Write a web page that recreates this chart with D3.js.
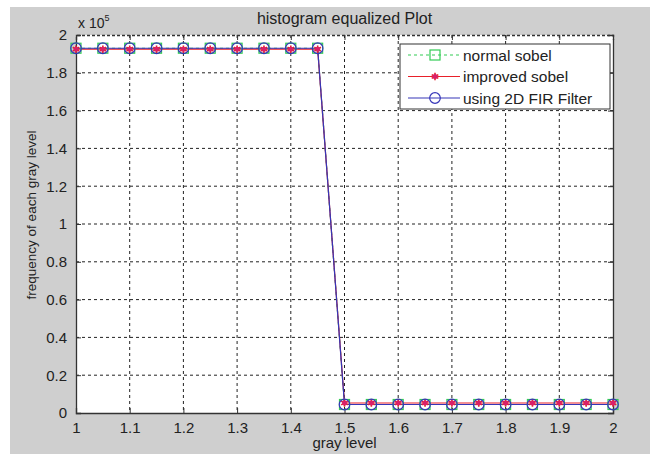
<!DOCTYPE html>
<html>
<head>
<meta charset="utf-8">
<script src="https://cdn.jsdelivr.net/npm/d3@7"></script>
<style>
  body { margin:0; background:#fff; }
  svg text { font-family: "Liberation Sans", Arial, sans-serif; fill:#222; }
</style>
</head>
<body>
<div id="chart-area"></div>
<script>
// data (y values in units of 1e5)
const grayLevels = [1,1.05,1.1,1.15,1.2,1.25,1.3,1.35,1.4,1.45,1.5,1.55,1.6,1.65,1.7,1.75,1.8,1.85,1.9,1.95,2];
const normalSobel   = [1.93,1.93,1.93,1.93,1.93,1.93,1.93,1.93,1.93,1.93,0.045,0.045,0.045,0.045,0.045,0.045,0.045,0.045,0.045,0.045,0.045];
const improvedSobel = [1.925,1.925,1.925,1.925,1.925,1.925,1.925,1.925,1.925,1.925,0.053,0.053,0.053,0.053,0.053,0.053,0.053,0.053,0.053,0.053,0.053];
const firFilter     = [1.93,1.93,1.93,1.93,1.93,1.93,1.93,1.93,1.93,1.93,0.045,0.045,0.045,0.045,0.045,0.045,0.045,0.045,0.045,0.045,0.045];
const xTicks = [1,1.1,1.2,1.3,1.4,1.5,1.6,1.7,1.8,1.9,2];
const yTicks = [0,0.2,0.4,0.6,0.8,1,1.2,1.4,1.6,1.8,2];
const seriesNames = ["normal sobel", "improved sobel", "using 2D FIR Filter"];

const W = 650, H = 454;
const margin = { left:76, right:37, top:35, bottom:41 };
const width = W - margin.left - margin.right,
    height = H - margin.top - margin.bottom;

const svg = d3.select("#chart-area")
    .append("svg")
    .attr("width", W)
    .attr("height", H);

// matlab grey figure background
svg.append("rect")
    .attr("x", 10).attr("y", 7)
    .attr("width", W - 10).attr("height", H - 7)
    .attr("fill", "#cfcfcf");

const g = svg.append("g")
    .attr("transform", "translate(" + margin.left + "," + margin.top + ")");

g.append("rect")
    .attr("width", width).attr("height", height)
    .attr("fill", "#fff");

const x = d3.scaleLinear().domain([1, 2]).range([0, width]);
const y = d3.scaleLinear().domain([0, 2]).range([height, 0]);

// grid
g.selectAll(".vgrid").data(xTicks.slice(1, -1)).enter().append("line")
    .attr("x1", d => x(d)).attr("x2", d => x(d))
    .attr("y1", 0).attr("y2", height)
    .attr("stroke", "#222").attr("stroke-width", 1)
    .attr("stroke-dasharray", "3,3");
g.selectAll(".hgrid").data(yTicks.slice(1, -1)).enter().append("line")
    .attr("y1", d => y(d)).attr("y2", d => y(d))
    .attr("x1", 0).attr("x2", width)
    .attr("stroke", "#222").attr("stroke-width", 1)
    .attr("stroke-dasharray", "3,3");

// axes (ticks pointing inward, like matlab)
const xAxis = d3.axisBottom(x).tickValues(xTicks).tickSize(-5).tickPadding(9)
    .tickFormat(d3.format("~g"));
const gx = g.append("g")
    .attr("transform", "translate(0," + height + ")")
    .call(xAxis);
const yAxis = d3.axisLeft(y).tickValues(yTicks).tickSize(-5).tickPadding(9)
    .tickFormat(d3.format("~g"));
const gy = g.append("g").call(yAxis);
const gx2 = g.append("g").call(d3.axisTop(x).tickValues(xTicks).tickSize(-5).tickFormat(""));
const gy2 = g.append("g").attr("transform", "translate(" + width + ",0)")
    .call(d3.axisRight(y).tickValues(yTicks).tickSize(-5).tickFormat(""));
[gx, gy, gx2, gy2].forEach(a => {
    a.select(".domain").attr("stroke", "#333").attr("stroke-width", 1.3);
    a.selectAll(".tick line").attr("stroke", "#333");
    a.selectAll("text").attr("font-size", "15px").attr("fill", "#2a2a2a");
});
gx2.select(".domain").attr("stroke-dasharray", "3,2");

// lines
const line = d3.line().x((d, i) => x(grayLevels[i])).y(d => y(d));
const series = [
    { name: seriesNames[0], vals: normalSobel, color: "#33cc55", dash: "3,3" },
    { name: seriesNames[1], vals: improvedSobel, color: "#e8202a", dash: null },
    { name: seriesNames[2], vals: firFilter, color: "#3636b8", dash: null }
];

series.forEach(s => {
    g.append("path").datum(s.vals)
        .attr("d", line)
        .attr("fill", "none")
        .attr("stroke", s.color)
        .attr("stroke-width", 1.2)
        .attr("stroke-dasharray", s.dash);
});

function marker(sel, i, cx, cy) {
    if (i === 0) {
        sel.append("rect").attr("x", cx - 5).attr("y", cy - 5).attr("width", 10).attr("height", 10)
            .attr("fill", "none").attr("stroke", series[0].color).attr("stroke-width", 1.2);
    } else if (i === 1) {
        sel.append("path")
            .attr("d", d3.symbol().type(d3.symbolAsterisk).size(40)())
            .attr("transform", "translate(" + cx + "," + cy + ")")
            .attr("fill", "none").attr("stroke", series[1].color).attr("stroke-width", 1.6);
        sel.append("circle").attr("cx", cx).attr("cy", cy).attr("r", 2.5).attr("fill", "#d8206a");
    } else {
        sel.append("circle").attr("cx", cx).attr("cy", cy).attr("r", 5.3)
            .attr("fill", "none").attr("stroke", series[2].color).attr("stroke-width", 1.2);
    }
}

series.forEach((s, si) => {
    const mg = g.append("g");
    s.vals.forEach((v, i) => marker(mg, si, x(grayLevels[i]), y(v)));
});

// legend
const lg = g.append("g").attr("transform", "translate(" + (400 - margin.left) + "," + (44 - margin.top) + ")");
lg.append("rect").attr("width", 210).attr("height", 65)
    .attr("fill", "#fff").attr("stroke", "#333").attr("stroke-width", 1);
series.forEach((s, i) => {
    const ly = 11 + i * 21.5;
    lg.append("line").attr("x1", 8).attr("x2", 60).attr("y1", ly).attr("y2", ly)
        .attr("stroke", s.color).attr("stroke-width", 1.2).attr("stroke-dasharray", s.dash);
    marker(lg, i, 35, ly);
    lg.append("text").attr("x", 63).attr("y", ly + 5.5)
        .attr("font-size", "15.5px").attr("fill", "#2a2a2a").text(s.name);
});

// labels
svg.append("text")
    .attr("x", margin.left + width / 2).attr("y", 24)
    .attr("text-anchor", "middle").attr("font-size", "16px").attr("fill", "#2a2a2a")
    .text("histogram equalized Plot");
svg.append("text")
    .attr("x", 78).attr("y", 28)
    .attr("font-size", "14px").attr("fill", "#2a2a2a")
    .text("x 10")
  .append("tspan").attr("dy", -7).attr("font-size", "9px").text("5");
svg.append("text")
    .attr("x", margin.left + width / 2).attr("y", 448)
    .attr("text-anchor", "middle").attr("font-size", "15px").attr("fill", "#2a2a2a")
    .text("gray level");
svg.append("text")
    .attr("transform", "translate(36,215) rotate(-90)")
    .attr("text-anchor", "middle").attr("font-size", "13.5px").attr("fill", "#2a2a2a")
    .text("frequency of each gray level");
</script>
</body>
</html>
